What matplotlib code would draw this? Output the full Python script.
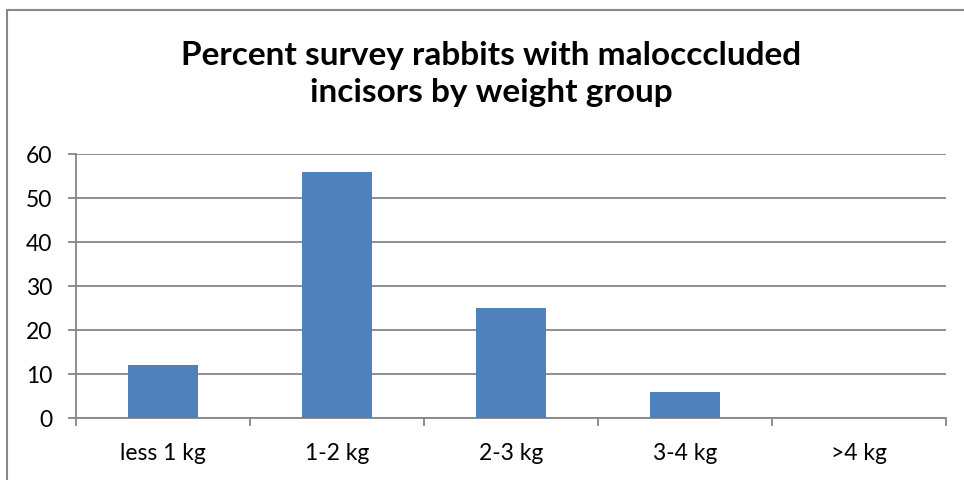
import matplotlib.pyplot as plt
from matplotlib.patches import Rectangle
import numpy as np

groups = ['less 1 kg', '1-2 kg', '2-3 kg', '3-4 kg', '>4 kg']
percent = [12, 56, 25, 6, 0]
yticks = [0, 10, 20, 30, 40, 50, 60]

plt.rcParams['font.family'] = ['Lato', 'DejaVu Sans']
grey = '#868686'

fig = plt.figure(figsize=(9.64, 4.81), dpi=100)
ax = fig.add_axes([76 / 964, 1 - 419 / 481, 870 / 964, 264 / 481])

x = np.arange(len(groups))
ax.bar(x, percent, width=0.4, color='#4F81BD', zorder=3)

ax.set_xlim(-0.5, len(groups) - 0.5)
ax.set_ylim(0, 60)
ax.set_yticks(yticks)
ax.set_yticklabels([str(v) for v in yticks], fontsize=16.5)
ax.yaxis.grid(True, color=grey, linewidth=1.3, zorder=0)

# category boundaries get the tick marks, the labels sit in between
ax.set_xticks(np.arange(-0.5, len(groups), 1.0))
ax.set_xticklabels([])
ax.set_xticks(x, minor=True)
ax.set_xticklabels(groups, minor=True, fontsize=16.5)
ax.tick_params(axis='x', which='minor', length=0, pad=17)
ax.tick_params(axis='x', which='major', length=6, width=1.3, color=grey)
ax.tick_params(axis='y', length=6, width=1.3, color=grey, pad=11)

for s in ['top', 'right']:
    ax.spines[s].set_visible(False)
for s in ['left', 'bottom']:
    ax.spines[s].set_color(grey)
    ax.spines[s].set_linewidth(1.3)

fig.text(491 / 964, 1 - 74 / 481, 'Percent survey rabbits with malocccluded\nincisors by weight group',
         ha='center', va='center', fontsize=24, fontweight='bold', linespacing=1.3)

fig.patches.append(Rectangle((7 / 964, -0.1), 1.1, 1.1 - 11 / 481, transform=fig.transFigure,
                             fill=False, edgecolor='#898989', linewidth=1.5))

fig.savefig('out.png', dpi=100)
